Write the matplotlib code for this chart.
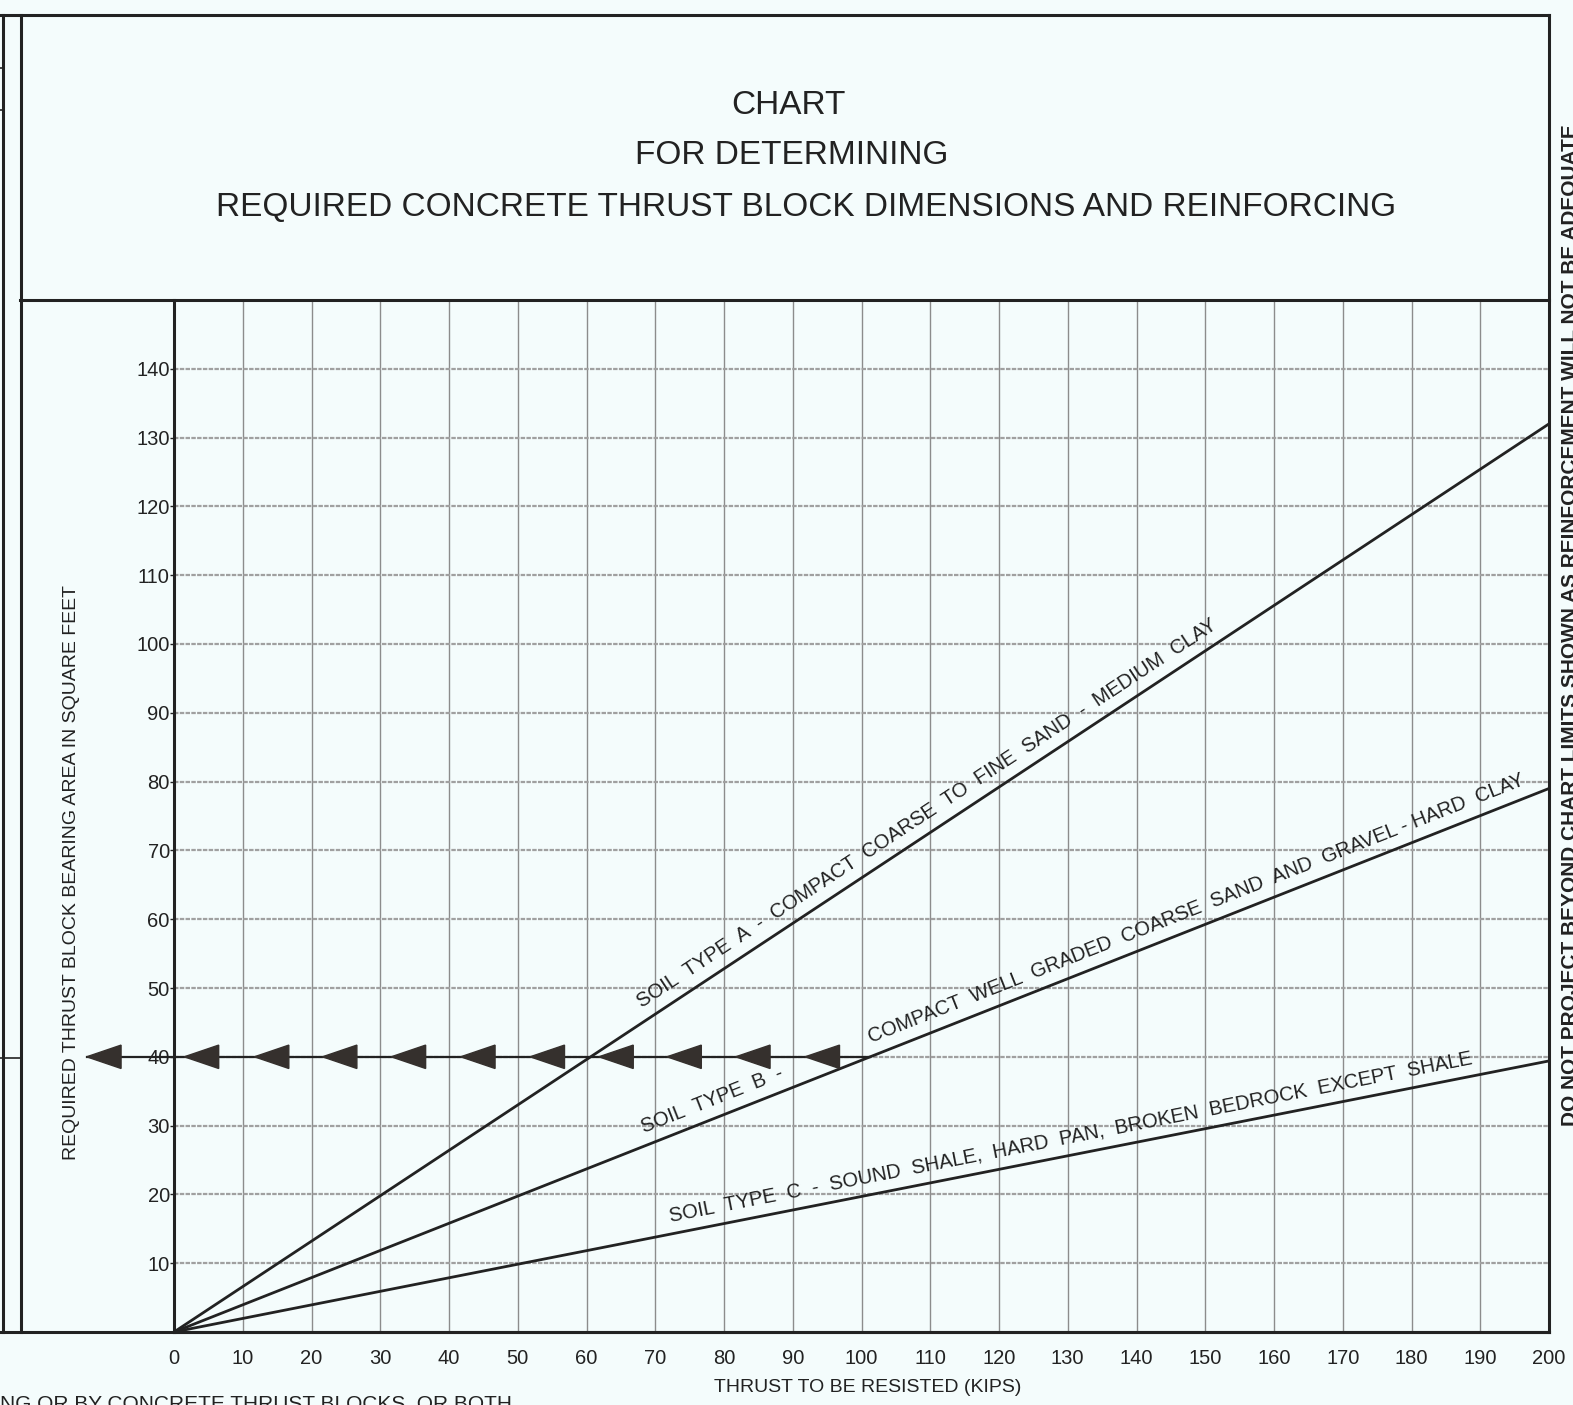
import numpy as np
import matplotlib
matplotlib.use("Agg")
import matplotlib.pyplot as plt
from matplotlib.lines import Line2D

plt.rcParams['font.family'] = ['Liberation Sans', 'DejaVu Sans']

# data
thrust_kips = [0, 200]
area_type_a = [0, 132]
area_type_b = [0, 79]
area_type_c = [0, 39.4]
x_ticks = list(range(0, 201, 10))
y_ticks = list(range(10, 141, 10))
arrow_level = 40
arrow_tips = [-12.7, 1.5, 11.7, 21.6, 31.6, 41.7, 51.8, 61.8, 71.7, 81.7, 91.8]

label_a = "SOIL  TYPE  A  -  COMPACT  COARSE  TO  FINE  SAND  -  MEDIUM  CLAY"
label_b1 = "SOIL  TYPE  B  -"
label_b2 = "COMPACT  WELL  GRADED  COARSE  SAND  AND  GRAVEL - HARD  CLAY"
label_c = "SOIL  TYPE  C  -  SOUND  SHALE,  HARD  PAN,  BROKEN  BEDROCK  EXCEPT  SHALE"
title_lines = ["CHART", "FOR DETERMINING",
               "REQUIRED CONCRETE THRUST BLOCK DIMENSIONS AND REINFORCING"]

W, H = 1573, 1405
bg = "#f4fcfc"
ink = "#222222"


def fx(px):
    return px / W


def fy(py):
    return 1 - py / H


fig = plt.figure(figsize=(W / 100, H / 100), dpi=100, facecolor=bg)
ax = fig.add_axes([fx(174), fy(1332), fx(1549) - fx(174), fy(300) - fy(1332)])
ax.set_facecolor(bg)
ax.set_xlim(0, 200)
ax.set_ylim(0, 150)

# grid
for x in x_ticks[1:-1]:
    ax.axvline(x, color="#8c8c8c", lw=1.0, zorder=1)
for y in y_ticks:
    ax.axhline(y, color="#a0a0a0", lw=1.6, ls=(0, (2, 0.6)), zorder=1)

# soil lines
for ys in (area_type_a, area_type_b, area_type_c):
    ax.plot(thrust_kips, ys, color=ink, lw=2.0, zorder=3)

# arrow line at 40 sq ft up to soil type B
x_end = arrow_level * thrust_kips[1] / area_type_b[1]
ax.plot([arrow_tips[0], x_end], [arrow_level, arrow_level], color=ink, lw=1.6,
        zorder=2, clip_on=False)
for tip in arrow_tips:
    ax.fill([tip, tip + 5.0, tip + 5.0], [arrow_level, arrow_level + 1.7, arrow_level - 1.7],
            color="#35302d", zorder=4, clip_on=False)


def line_label(text, xs, ys, x0, off=6):
    slope = ys[1] / xs[1]
    ang = np.degrees(np.arctan(slope))
    t = np.radians(ang)
    ax.annotate(text, (x0, x0 * slope), xytext=(-np.sin(t) * off, np.cos(t) * off),
                textcoords="offset points", rotation=ang, rotation_mode="anchor",
                ha="left", va="bottom", fontsize=14.5, color=ink, zorder=5)


line_label(label_a, thrust_kips, area_type_a, 69)
line_label(label_b1, thrust_kips, area_type_b, 69)
line_label(label_b2, thrust_kips, area_type_b, 102)
line_label(label_c, thrust_kips, area_type_c, 72.5)

# axes / ticks
for s in ("top", "right"):
    ax.spines[s].set_visible(False)
for s in ("left", "bottom"):
    ax.spines[s].set_linewidth(2.2)
    ax.spines[s].set_color(ink)
ax.set_xticks(x_ticks)
ax.set_yticks(y_ticks)
ax.tick_params(axis="x", length=0, pad=12, labelsize=14.5, colors=ink)
ax.tick_params(axis="y", length=3, width=1, pad=0, labelsize=14.5, colors=ink)

fig.text(fx(868), fy(1387), "THRUST TO BE RESISTED (KIPS)", ha="center", va="center",
         fontsize=14, color=ink)
fig.text(fx(72), fy(872), "REQUIRED THRUST BLOCK BEARING AREA IN SQUARE FEET",
         ha="center", va="center", rotation=90, fontsize=14, color=ink)

# header titles
for txt, px, py in zip(title_lines, [788, 792, 806], [105, 155, 207]):
    fig.text(fx(px), fy(py), txt, ha="center", va="center", fontsize=24, color=ink)

# frame lines
def fline(x0, y0, x1, y1, lw=2.2):
    fig.add_artist(Line2D([fx(x0), fx(x1)], [fy(y0), fy(y1)], color=ink, lw=lw,
                          transform=fig.transFigure))


fline(0, 15, 1549, 15)
fline(20, 300, 1549, 300)
fline(1549, 15, 1549, 1332)
fline(3, 15, 3, 1332)
fline(21, 15, 21, 1332)
fline(0, 1332, 1549, 1332)
fline(0, 68, 3, 68, lw=1.2)
fline(0, 110, 3, 110, lw=1.2)
fline(0, 1058, 21, 1058, lw=1.2)

# cropped side notes
fig.text(fx(1561), fy(1126), "DO NOT PROJECT BEYOND CHART LIMITS SHOWN AS REINFORCEMENT WILL NOT BE ADEQUATE",
         rotation=90, rotation_mode="anchor", ha="left", va="top", fontsize=15,
         fontweight="bold", color=ink)
fig.text(fx(0), fy(1394), "NG OR BY CONCRETE THRUST BLOCKS, OR BOTH", ha="left", va="top",
         fontsize=15, color=ink)

fig.savefig("out.png", dpi=100, facecolor=bg)
